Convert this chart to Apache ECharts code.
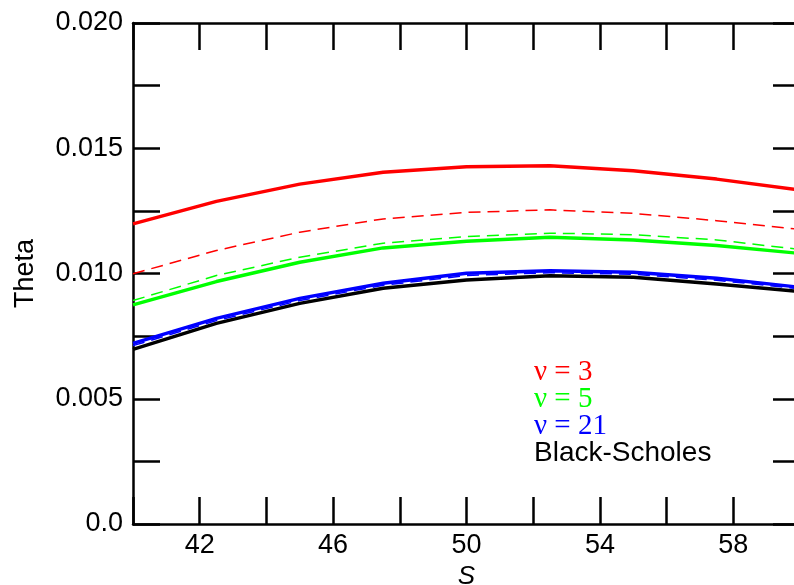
<!DOCTYPE html>
<html>
<head>
<meta charset="utf-8">
<script src="https://cdn.jsdelivr.net/npm/echarts@6/dist/echarts.min.js"></script>
<style>
html,body{margin:0;padding:0;background:#fff;}
#chart{width:794px;height:585px;}
</style>
</head>
<body>
<div id="chart"></div>
<script>
const sValues = [40, 42.5, 45, 47.5, 50, 52.5, 55, 57.5, 60];
const nu3Solid = [0.01198, 0.01288, 0.01357, 0.01404, 0.01426, 0.01430, 0.01410, 0.01377, 0.01333];
const nu3Dashed = [0.00999, 0.01092, 0.01165, 0.01218, 0.01244, 0.01254, 0.01240, 0.01211, 0.01176];
const nu5Solid = [0.00875, 0.00968, 0.01045, 0.01102, 0.01129, 0.01145, 0.01134, 0.01112, 0.01080];
const nu5Dashed = [0.00892, 0.00992, 0.01065, 0.01121, 0.01147, 0.01161, 0.01155, 0.01134, 0.01096];
const nu21Solid = [0.00721, 0.00821, 0.00901, 0.00961, 0.01001, 0.01011, 0.01005, 0.00981, 0.00945];
const nu21Dashed = [0.00712, 0.00812, 0.00892, 0.00953, 0.00992, 0.01003, 0.00997, 0.00973, 0.00939];
const blackScholes = [0.00697, 0.00801, 0.00881, 0.00941, 0.00974, 0.00991, 0.00985, 0.00958, 0.00928];
const xTickLabels = ['42', '46', '50', '54', '58'];
const yTickLabels = { '0': '0.0', '0.005': '0.005', '0.01': '0.010', '0.015': '0.015', '0.02': '0.020' };

const pair = arr => sValues.map((s, i) => [s, arr[i]]);
const SANS = 'Liberation Sans, Arial, Helvetica, sans-serif';
const SERIF = 'Liberation Serif, Times New Roman, serif';

const chart = echarts.init(document.getElementById('chart'), null, { renderer: 'canvas' });

const tickStyle = { show: true, inside: true, length: 27, lineStyle: { color: '#000', width: 2.5 } };
const axisLineStyle = { show: true, onZero: false, lineStyle: { color: '#000', width: 2.5 } };

function solid(name, color, data) {
  return { name, type: 'line', data: pair(data), showSymbol: false, symbol: 'none',
    lineStyle: { color, width: 3.4, type: 'solid' }, itemStyle: { color }, z: 3, animation: false };
}
function dashed(name, color, data) {
  return { name, type: 'line', data: pair(data), showSymbol: false, symbol: 'none',
    lineStyle: { color, width: 1.5, type: [12, 7] }, itemStyle: { color }, z: 4, animation: false };
}

chart.setOption({
  animation: false,
  backgroundColor: '#fff',
  grid: { left: 133, top: 23, width: 667, height: 501, containLabel: false, outerBoundsMode: 'none' },
  legend: {
    orient: 'vertical', left: 524, top: 353, icon: 'none', itemWidth: 0, itemHeight: 10, itemGap: -2,
    selectedMode: false,
    data: [
      { name: 'ν = 3', textStyle: { color: '#ff0000', fontFamily: SERIF, fontSize: 29, lineHeight: 25 } },
      { name: 'ν = 5', textStyle: { color: '#00ff00', fontFamily: SERIF, fontSize: 29, lineHeight: 25 } },
      { name: 'ν = 21', textStyle: { color: '#0000ff', fontFamily: SERIF, fontSize: 29, lineHeight: 25 } },
      { name: 'Black-Scholes', textStyle: { color: '#000', fontFamily: SANS, fontSize: 28, lineHeight: 28 } }
    ]
  },
  xAxis: [
    {
      type: 'value', min: 40, max: 60, interval: 2, position: 'bottom',
      name: 'S', nameLocation: 'middle', nameGap: 33,
      nameTextStyle: { fontFamily: SANS, fontSize: 26, fontStyle: 'italic', color: '#000' },
      axisLine: axisLineStyle, axisTick: tickStyle, splitLine: { show: false },
      axisLabel: {
        fontFamily: SANS, fontSize: 27, color: '#000', margin: 8,
        formatter: v => { const t = String(Math.round(v)); return xTickLabels.includes(t) ? t : ''; }
      }
    },
    {
      type: 'value', min: 40, max: 60, interval: 2, position: 'top',
      axisLine: axisLineStyle, axisTick: tickStyle, splitLine: { show: false },
      axisLabel: { show: false }
    }
  ],
  yAxis: [
    {
      type: 'value', min: 0, max: 0.02, interval: 0.0025, position: 'left',
      name: 'Theta', nameLocation: 'middle', nameGap: 94, nameRotate: 90,
      nameTextStyle: { fontFamily: SANS, fontSize: 27, color: '#000' },
      axisLine: axisLineStyle, axisTick: tickStyle, splitLine: { show: false },
      axisLabel: {
        fontFamily: SANS, fontSize: 27, color: '#000', margin: 10,
        formatter: v => { const k = String(Math.round(v * 10000) / 10000); return yTickLabels[k] !== undefined ? yTickLabels[k] : ''; }
      }
    },
    {
      type: 'value', min: 0, max: 0.02, interval: 0.0025, position: 'right',
      axisLine: axisLineStyle, axisTick: tickStyle, splitLine: { show: false },
      axisLabel: { show: false }
    }
  ],
  series: [
    solid('ν = 3', '#ff0000', nu3Solid),
    dashed('ν = 3 (dashed)', '#ff0000', nu3Dashed),
    solid('ν = 5', '#00ff00', nu5Solid),
    dashed('ν = 5 (dashed)', '#00ff00', nu5Dashed),
    solid('ν = 21', '#0000ff', nu21Solid),
    dashed('ν = 21 (dashed)', '#0000ff', nu21Dashed),
    solid('Black-Scholes', '#000000', blackScholes)
  ]
});
</script>
</body>
</html>
